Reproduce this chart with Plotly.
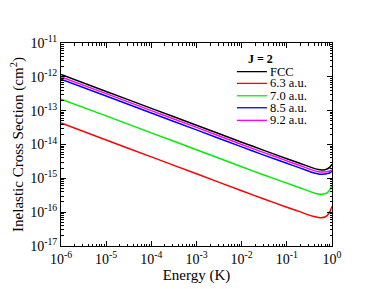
import plotly.graph_objects as go

energy = [1e-6, 1e-5, 1e-4, 1e-3, 1e-2, 0.03, 0.1, 0.2, 0.3, 0.4, 0.5, 0.6, 0.7, 0.8, 0.9, 1.0]
fcc = [1.17e-12, 3.7e-13, 1.17e-13, 3.7e-14, 1.17e-14, 6.8e-15, 3.8e-15, 2.75e-15, 2.25e-15, 1.97e-15, 1.82e-15, 1.77e-15, 1.8e-15, 1.92e-15, 2.15e-15, 2.6e-15]
au63 = [4.3e-14, 1.36e-14, 4.3e-15, 1.36e-15, 4.3e-16, 2.5e-16, 1.4e-16, 1.02e-16, 8.3e-17, 7.4e-17, 7.0e-17, 6.9e-17, 7.2e-17, 8.2e-17, 1.05e-16, 1.5e-16]
au70 = [2.2e-13, 7.0e-14, 2.2e-14, 7.0e-15, 2.2e-15, 1.28e-15, 7.2e-16, 5.2e-16, 4.25e-16, 3.7e-16, 3.45e-16, 3.4e-16, 3.5e-16, 3.85e-16, 4.7e-16, 6.3e-16]
au85 = [8.5e-13, 2.7e-13, 8.5e-14, 2.7e-14, 8.5e-15, 4.95e-15, 2.78e-15, 2.0e-15, 1.64e-15, 1.44e-15, 1.35e-15, 1.33e-15, 1.34e-15, 1.38e-15, 1.46e-15, 1.6e-15]
au92 = [1.0e-12, 3.2e-13, 1.0e-13, 3.2e-14, 1.0e-14, 5.85e-15, 3.28e-15, 2.36e-15, 1.93e-15, 1.69e-15, 1.57e-15, 1.53e-15, 1.54e-15, 1.58e-15, 1.65e-15, 1.78e-15]

series_names = ["FCC", "6.3 a.u.", "7.0 a.u.", "8.5 a.u.", "9.2 a.u."]
series_vals = [fcc, au63, au70, au85, au92]
colors = ["#000000", "#ff0000", "#00ee00", "#0000ff", "#ff00ff"]

x_tickvals = [1e-6, 1e-5, 1e-4, 1e-3, 1e-2, 1e-1, 1e0]
x_ticktext = ["10<sup>-6</sup>", "10<sup>-5</sup>", "10<sup>-4</sup>", "10<sup>-3</sup>", "10<sup>-2</sup>", "10<sup>-1</sup>", "10<sup>0</sup>"]
y_tickvals = [1e-17, 1e-16, 1e-15, 1e-14, 1e-13, 1e-12, 1e-11]
y_ticktext = ["10<sup>-17</sup>", "10<sup>-16</sup>", "10<sup>-15</sup>", "10<sup>-14</sup>", "10<sup>-13</sup>", "10<sup>-12</sup>", "10<sup>-11</sup>"]

FONT = "Liberation Serif, Times New Roman, serif"

fig = go.Figure()
for name, vals, c in zip(series_names, series_vals, colors):
    fig.add_trace(go.Scatter(x=energy, y=vals, mode="lines", name=name,
                             line=dict(color=c, width=1.5, shape="spline", smoothing=0.6),
                             showlegend=False))

# manual legend
leg_x0, leg_x1, leg_text_x = 0.649, 0.76, 0.762
leg_y = [0.859, 0.801, 0.740, 0.681, 0.619]
fig.add_annotation(x=0.735, y=0.92, xref="paper", yref="paper", text="<b>J = 2</b>",
                   showarrow=False, font=dict(family=FONT, size=12, color="black"),
                   xanchor="center", yanchor="middle")
for name, c, yy in zip(series_names, colors, leg_y):
    fig.add_shape(type="line", xref="paper", yref="paper", x0=leg_x0, x1=leg_x1, y0=yy, y1=yy,
                  line=dict(color=c, width=1.3))
    fig.add_annotation(x=leg_text_x, y=yy, xref="paper", yref="paper", text=name,
                       showarrow=False, font=dict(family=FONT, size=12.5, color="black"),
                       xanchor="left", yanchor="middle")

axis_common = dict(showline=True, linecolor="black", linewidth=1, mirror="allticks",
                   ticks="inside", ticklen=5, tickcolor="black", showgrid=False, zeroline=False,
                   automargin=False,
                   tickfont=dict(family=FONT, size=14, color="black"),
                   minor=dict(ticks="inside", ticklen=2.5, tickcolor="black", dtick="D1", showgrid=False))

fig.update_xaxes(type="log", range=[-6, 0], tickvals=x_tickvals, ticktext=x_ticktext,
                 title=dict(text="Energy (K)", font=dict(family=FONT, size=15, color="black"), standoff=0),
                 **axis_common)
fig.update_yaxes(type="log", range=[-17, -11], tickvals=y_tickvals, ticktext=y_ticktext,
                 title=dict(text="Inelastic Cross Section (cm<sup>2</sup>)", font=dict(family=FONT, size=15, color="black"), standoff=2),
                 **axis_common)

fig.update_layout(width=366, height=281, margin=dict(l=53, r=42, t=35, b=43),
                  paper_bgcolor="white", plot_bgcolor="white",
                  font=dict(family=FONT, color="black"))

fig.write_html("out.html")
